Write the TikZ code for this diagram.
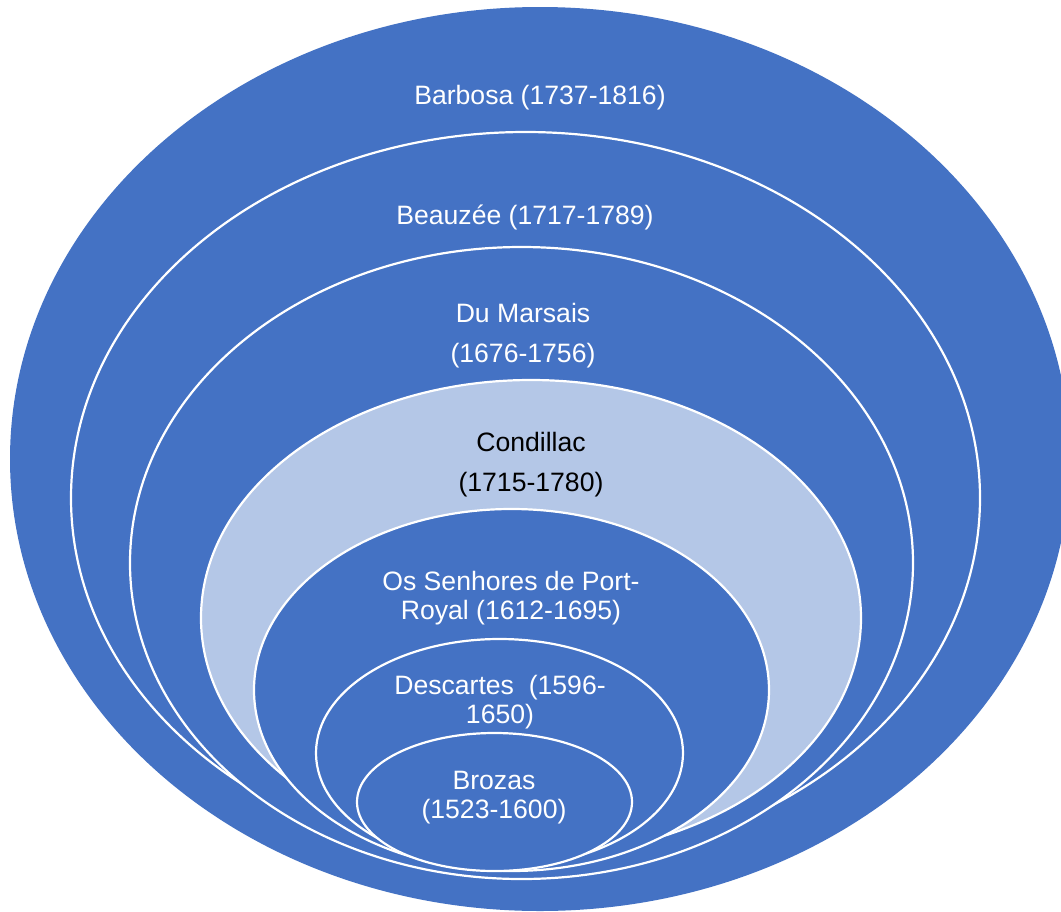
\documentclass[tikz,border=0pt]{standalone}
\usepackage{fontspec}
\setmainfont{Liberation Sans}
\definecolor{ringblue}{HTML}{4472C4}
\definecolor{ringlight}{HTML}{B4C7E7}
\tikzset{
  ring/.style={fill=ringblue, draw=white, line width=2.2pt},
  ringlt/.style={fill=ringlight, draw=white, line width=2.2pt},
  lbl/.style={text=white, align=center, inner sep=0pt, font=\fontsize{26.6}{29}\selectfont},
  lbldark/.style={lbl, text=black}
}
\begin{document}
\begin{tikzpicture}[x=1pt,y=-1pt]
  \clip (0,0) rectangle (1061,911);
  \fill[white] (0,0) rectangle (1061,911);
  % rings, outermost first
  \fill[ringblue] (540,459) ellipse [x radius=530pt, y radius=452pt];
  \draw[ring] (525.5,498) ellipse [x radius=454.5pt, y radius=366pt];
  \draw[ring] (521.5,563) ellipse [x radius=391.5pt, y radius=316pt];
  \draw[ringlt] (531,618) ellipse [x radius=330pt, y radius=238pt];
  \draw[ring] (511.5,690) ellipse [x radius=257.5pt, y radius=181pt];
  \draw[ring] (499.5,753) ellipse [x radius=183.5pt, y radius=114pt];
  \draw[ring] (494.5,802) ellipse [x radius=137.5pt, y radius=69pt];
  % labels
  \node[lbl] (barbosa) at (540,98) {Barbosa (1737-1816)};
  \node[lbl] (beauzee) at (525,217) {Beauzée (1717-1789)};
  \node[lbl] (dumarsais) at (523,336) {Du Marsais\\[11pt](1676-1756)};
  \node[lbl,text=black] (condillac) at (531,465) {Condillac\\[11pt](1715-1780)};
  \node[lbl] (portroyal) at (511,598) {Os Senhores de Port-\\Royal (1612-1695)};
  \node[lbl] (descartes) at (500,702) {Descartes\ \ (1596-\\1650)};
  \node[lbl] (brozas) at (494,798) {Brozas\\(1523-1600)};
\end{tikzpicture}
\end{document}
